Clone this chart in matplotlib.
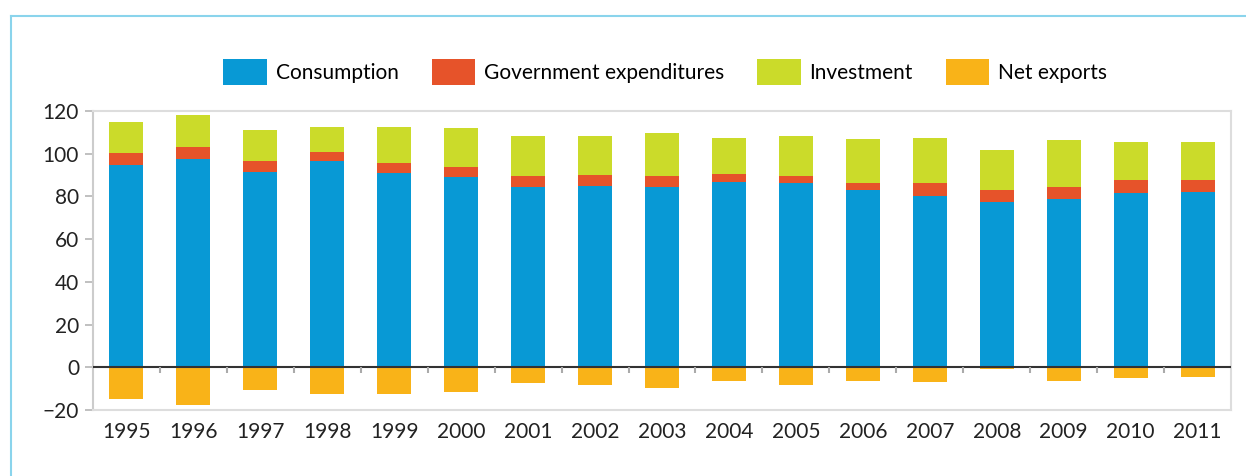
"""Stacked contributions bar chart with negative net exports, matplotlib."""
import matplotlib
matplotlib.use("Agg")
import matplotlib.pyplot as plt
import numpy as np
from matplotlib.lines import Line2D

plt.rcParams["font.family"] = ["Lato", "DejaVu Sans"]

YEARS = [str(y) for y in range(1995, 2012)]
CONSUMPTION = [94.7, 97.5, 91.6, 96.6, 91.0, 89.1, 84.4, 85.0, 84.4, 86.9, 86.3,
               83.2, 80.4, 77.6, 78.8, 81.6, 82.2]
GOVERNMENT = [5.6, 5.7, 5.0, 4.2, 4.7, 4.7, 5.2, 5.0, 5.2, 3.6, 3.3,
              3.1, 5.9, 5.4, 5.6, 6.1, 5.5]
INVESTMENT = [14.6, 14.9, 14.5, 11.7, 16.8, 18.2, 18.7, 18.3, 20.1, 16.9, 18.7,
              20.6, 21.1, 18.7, 22.0, 17.8, 17.8]
NET_EXPORTS = [-14.7, -17.5, -10.5, -12.3, -12.3, -11.4, -7.6, -8.1, -9.5, -6.2, -8.1,
               -6.2, -6.7, -0.9, -6.2, -4.8, -4.4]

COLORS = {"Consumption": "#0899d5", "Government expenditures": "#e6532a",
          "Investment": "#cbdb2a", "Net exports": "#f9b318"}


def main() -> None:
    fig = plt.figure(figsize=(12.46, 4.76), dpi=100)
    ax = fig.add_axes([0.0746, 0.1387, 0.9134, 0.6281])
    x = np.arange(len(YEARS))
    w = 0.51
    cons = np.array(CONSUMPTION)
    gov = np.array(GOVERNMENT)
    inv = np.array(INVESTMENT)

    ax.bar(x, cons, w, color=COLORS["Consumption"], label="Consumption")
    ax.bar(x, gov, w, bottom=cons, color=COLORS["Government expenditures"],
           label="Government expenditures")
    ax.bar(x, inv, w, bottom=cons + gov, color=COLORS["Investment"], label="Investment")
    ax.bar(x, NET_EXPORTS, w, color=COLORS["Net exports"], label="Net exports")

    ax.axhline(0, color="#333333", lw=1.5, zorder=3)
    # small category separators hanging below the zero line
    ax.vlines(x[:-1] + 0.5, -2.6, 0, color="#aaaaaa", lw=1.5, zorder=3)

    ax.set_xlim(-0.5, 16.5)
    ax.set_ylim(-20, 120)
    ax.set_yticks(range(-20, 121, 20))
    ax.set_yticklabels([str(v).replace("-", "\u2212") for v in range(-20, 121, 20)])
    ax.set_xticks(x)
    ax.set_xticklabels(YEARS)
    ax.tick_params(axis="x", length=0, pad=9, labelsize=15, colors="#222222")
    ax.tick_params(axis="y", length=6, width=1.3, color="#bbbbbb", pad=4,
                   labelsize=15, labelcolor="#222222")
    for s in ax.spines.values():
        s.set_color("#dddddd")
        s.set_linewidth(1.5)
    ax.spines["left"].set_color("#cccccc")

    fig.legend(loc="center", bbox_to_anchor=(0.534, 0.849), ncol=4, frameon=False,
               fontsize=15, handlelength=2.07, handleheight=1.55, handletextpad=0.43,
               columnspacing=1.6, borderaxespad=0)

    # light blue panel frame (top and left edges)
    fig.add_artist(Line2D([0.0088, 1.0], [0.967, 0.967], transform=fig.transFigure,
                          color="#8ad4ec", lw=1.5))
    fig.add_artist(Line2D([0.0088, 0.0088], [0.0, 0.967], transform=fig.transFigure,
                          color="#8ad4ec", lw=1.5))

    fig.savefig("out.png", dpi=100)
    plt.close(fig)


if __name__ == "__main__":
    main()
